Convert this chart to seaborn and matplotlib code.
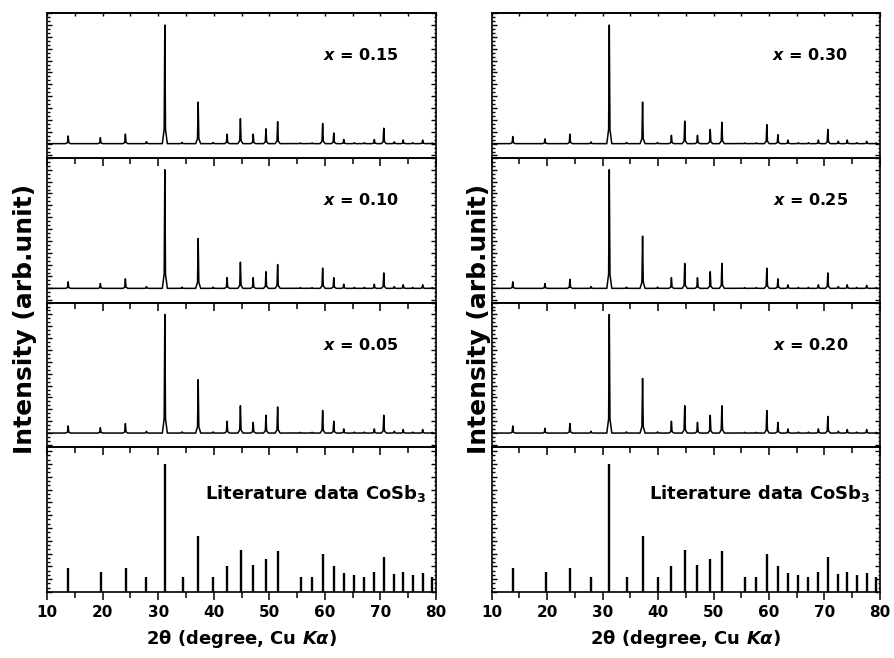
import matplotlib
matplotlib.use("Agg")
import matplotlib.pyplot as plt
import seaborn as sns
import numpy as np
import pandas as pd
from matplotlib.ticker import MultipleLocator, AutoMinorLocator

# ---------------- data ----------------
peak_pos = [13.8, 19.6, 24.1, 27.9, 31.2, 34.3, 37.2, 39.9, 42.4, 44.8, 47.1, 49.4, 51.5,
            55.6, 57.7, 59.6, 61.6, 63.4, 65.3, 67.1, 68.9, 70.6, 72.5, 74.1, 75.8, 77.6, 79.3]

h_015 = [6.5, 5, 8, 1.7, 100, 1, 35, 1, 8, 21, 8, 12.5, 18.5, 0.6, 0.6, 17, 9, 3.5, 0.8, 0.8, 3.5, 13, 1.5, 3, 0.8, 3, 0.6]
h_010 = [5.5, 4, 8, 1.5, 100, 1, 42, 1, 9, 22, 9, 14, 20, 0.6, 0.6, 17, 9, 3.5, 0.8, 0.8, 3.5, 13, 1.5, 3, 0.8, 3, 0.6]
h_005 = [6, 4.5, 8, 1.5, 100, 1, 45, 1, 10, 23, 9, 15, 22, 0.6, 0.6, 19, 10, 3.5, 0.8, 0.8, 3.5, 15, 1.5, 3, 0.8, 3, 0.6]
h_030 = [6, 4, 8, 1.5, 100, 1, 35, 1, 7, 19, 7, 12, 18, 0.6, 0.6, 16, 7.5, 3, 0.8, 0.8, 3, 12, 2, 3, 0.8, 2, 0.6]
h_025 = [5.5, 4, 7.5, 1.5, 100, 1, 44, 1, 9, 21, 9, 14, 21, 0.6, 0.6, 17, 8, 3, 0.8, 0.8, 3, 13, 1.5, 3, 0.8, 2.5, 0.6]
h_020 = [6, 4, 8, 1.5, 100, 1, 46, 1, 10, 23, 9, 15, 23, 0.6, 0.6, 19, 9, 3.5, 0.8, 0.8, 3.5, 14, 1.5, 3, 0.8, 3, 0.6]

stick_pos = [13.8, 19.7, 24.2, 27.9, 31.2, 34.4, 37.2, 39.9, 42.4, 44.9, 47.1, 49.4, 51.5,
             55.7, 57.7, 59.7, 61.6, 63.4, 65.3, 67.1, 68.9, 70.7, 72.5, 74.1, 75.8, 77.6, 79.3]
stick_int = [19, 16, 19, 12, 100, 12, 44, 12, 20, 33, 21, 26, 32, 12, 12, 30, 20, 15, 13, 12,
             16, 27, 14, 16, 13, 15, 12]

left_labels = ["0.15", "0.10", "0.05"]
right_labels = ["0.30", "0.25", "0.20"]
left_heights = [h_015, h_010, h_005]
right_heights = [h_030, h_025, h_020]
x_ticks = [10, 20, 30, 40, 50, 60, 70, 80]

# ---------------- style ----------------
sns.set_style("ticks")
plt.rcParams['font.family'] = ['DejaVu Sans']
plt.rcParams['font.weight'] = 'bold'
plt.rcParams['mathtext.fontset'] = 'custom'
plt.rcParams['mathtext.it'] = 'DejaVu Sans:bold:italic'
plt.rcParams['mathtext.rm'] = 'DejaVu Sans:bold'
plt.rcParams['mathtext.bf'] = 'DejaVu Sans:bold'
plt.rcParams['axes.linewidth'] = 1.2
for key in ['text.color', 'axes.labelcolor', 'xtick.color', 'ytick.color', 'axes.edgecolor']:
    plt.rcParams[key] = 'black'


def trace_frame(heights):
    xs, ys = [10.0], [0.0]
    for p, h in zip(peak_pos, heights):
        xs += [p - 0.45, p - 0.12, p, p + 0.12, p + 0.45]
        ys += [0.0, 0.12 * h, h, 0.12 * h, 0.0]
    xs.append(80.0)
    ys.append(0.0)
    return pd.DataFrame({"two_theta": xs, "intensity": ys})


fig = plt.figure(figsize=(8.94, 6.58), dpi=100)
gl = fig.add_gridspec(4, 1, left=0.0526, right=0.4877, top=0.980, bottom=0.1003, hspace=0)
gr = fig.add_gridspec(4, 1, left=0.550, right=0.9843, top=0.980, bottom=0.1003, hspace=0)


def style_axis(ax, bottom_panel, top_panel):
    ax.set_xlim(10, 80)
    ax.xaxis.set_major_locator(MultipleLocator(10))
    ax.xaxis.set_minor_locator(MultipleLocator(5))
    ax.yaxis.set_major_locator(MultipleLocator(10))
    ax.yaxis.set_minor_locator(AutoMinorLocator(3))
    ax.tick_params(axis='x', which='both', bottom=True, top=False, direction='out',
                   labelbottom=bottom_panel, width=1.1, labelsize=11, pad=3, colors='black')
    ax.tick_params(axis='x', which='major', length=6)
    ax.tick_params(axis='x', which='minor', length=4)
    ax.tick_params(axis='y', which='both', left=True, right=True, direction='in',
                   labelleft=False, labelright=False, width=1.0, colors='black')
    ax.tick_params(axis='y', which='major', length=3.5)
    ax.tick_params(axis='y', which='minor', length=1.8)
    ax.set_ylabel("")
    ax.set_xlabel("")
    ax.patch.set_alpha(0)
    for s in ax.spines.values():
        s.set_visible(True)
        s.set_linewidth(1.2)
        s.set_color('black')
    if top_panel:
        sec = ax.secondary_xaxis('top')
        sec.xaxis.set_major_locator(MultipleLocator(10))
        sec.xaxis.set_minor_locator(MultipleLocator(5))
        sec.tick_params(which='both', direction='in', length=2.5, labeltop=False, width=1.0)


for gs, labels, heights in [(gl, left_labels, left_heights), (gr, right_labels, right_heights)]:
    axes = [fig.add_subplot(gs[i]) for i in range(4)]
    for i in range(3):
        ax = axes[i]
        df = trace_frame(heights[i])
        sns.lineplot(data=df, x="two_theta", y="intensity", sort=False, estimator=None,
                     color="black", linewidth=1.1, ax=ax)
        ax.set_ylim(-12, 110)
        style_axis(ax, False, i == 0)
        ax.text(0.905 if gs is gl else 0.918, 0.71, r"$x$ = " + labels[i], transform=ax.transAxes,
                ha='right', va='center', fontsize=11.5, fontweight='bold', color='black')
    ax = axes[3]
    ax.vlines(stick_pos, 0, stick_int, color="black", linewidth=1.7)
    ax.set_ylim(0, 113)
    style_axis(ax, True, False)
    ax.set_xticks(x_ticks)
    ax.set_xticklabels([str(t) for t in x_ticks], fontweight='bold', color='black')
    ax.text(0.976, 0.68, r"Literature data CoSb$_3$", transform=ax.transAxes,
            ha='right', va='center', fontsize=13, fontweight='bold', color='black')
    ax.set_xlabel("2θ (degree, Cu $K\\alpha$)", fontsize=13, fontweight='bold', labelpad=6,
                  color='black')

fig.text(25 / 894, 0.515, "Intensity (arb.unit)", rotation=90, ha='center', va='center',
         fontsize=18, fontweight='bold', color='black')
fig.text(479 / 894, 0.515, "Intensity (arb.unit)", rotation=90, ha='center', va='center',
         fontsize=18, fontweight='bold', color='black')

fig.savefig("out.png", dpi=100, facecolor='white')
